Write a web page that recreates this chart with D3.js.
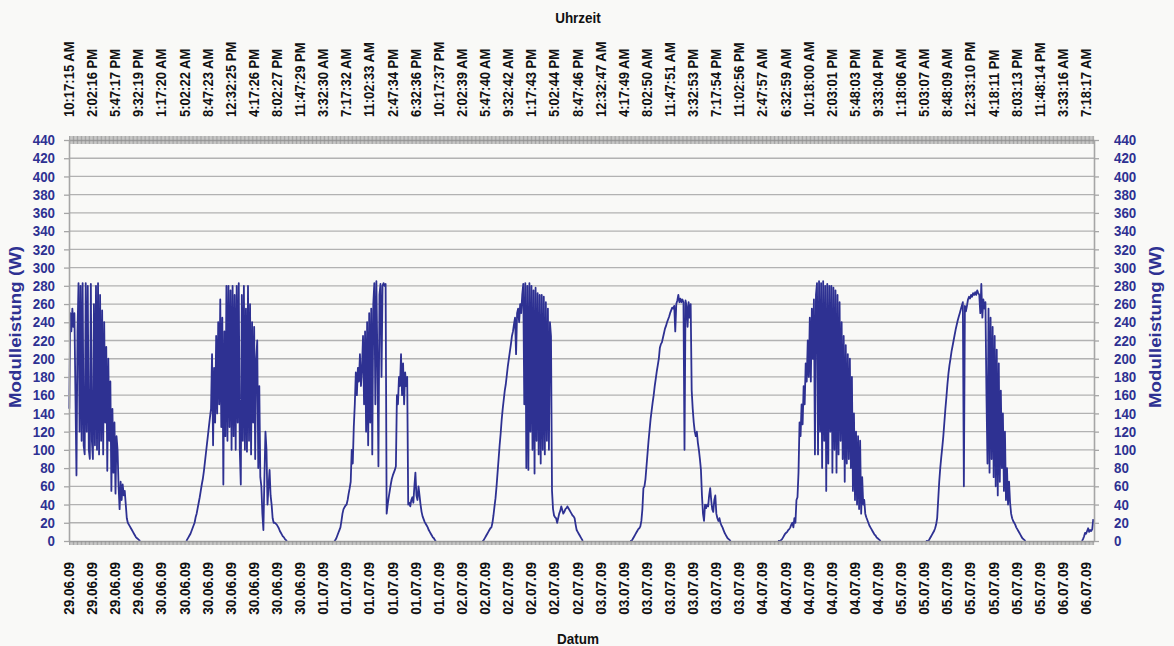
<!DOCTYPE html>
<html><head><meta charset="utf-8">
<script src="https://cdn.jsdelivr.net/npm/d3@7"></script>
<style>
html,body{margin:0;padding:0;background:#f9f9f7;}
svg{display:block;}
text{font-family:"Liberation Sans",Arial,sans-serif;}
</style></head><body>
<svg id="chart" width="1174" height="646"></svg>
<script>
// ---------- data ----------
const timeLabels = ["10:17:15 AM","2:02:16 PM","5:47:17 PM","9:32:19 PM","1:17:20 AM","5:02:22 AM","8:47:23 AM","12:32:25 PM","4:17:26 PM","8:02:27 PM","11:47:29 PM","3:32:30 AM","7:17:32 AM","11:02:33 AM","2:47:34 PM","6:32:36 PM","10:17:37 PM","2:02:39 AM","5:47:40 AM","9:32:42 AM","1:17:43 PM","5:02:44 PM","8:47:46 PM","12:32:47 AM","4:17:49 AM","8:02:50 AM","11:47:51 AM","3:32:53 PM","7:17:54 PM","11:02:56 PM","2:47:57 AM","6:32:59 AM","10:18:00 AM","2:03:01 PM","5:48:03 PM","9:33:04 PM","1:18:06 AM","5:03:07 AM","8:48:09 AM","12:33:10 PM","4:18:11 PM","8:03:13 PM","11:48:14 PM","3:33:16 AM","7:18:17 AM"];
const dateLabels = ["29.06.09","29.06.09","29.06.09","29.06.09","30.06.09","30.06.09","30.06.09","30.06.09","30.06.09","30.06.09","30.06.09","01.07.09","01.07.09","01.07.09","01.07.09","01.07.09","01.07.09","02.07.09","02.07.09","02.07.09","02.07.09","02.07.09","02.07.09","03.07.09","03.07.09","03.07.09","03.07.09","03.07.09","03.07.09","03.07.09","04.07.09","04.07.09","04.07.09","04.07.09","04.07.09","04.07.09","05.07.09","05.07.09","05.07.09","05.07.09","05.07.09","05.07.09","05.07.09","06.07.09","06.07.09"];
const yTicks = [0,20,40,60,80,100,120,140,160,180,200,220,240,260,280,300,320,340,360,380,400,420,440];
const axisEnd = "06.07.09 08:37";
const sampleMinutes = 10;

// one array of power readings (W) per day, sampled every 10 minutes from the start time
const dayDates  = ["29.06.09","30.06.09","01.07.09","02.07.09","03.07.09","04.07.09","05.07.09","06.07.09"];
const dayStarts = ["10:20","05:20","05:20","05:20","05:20","05:20","05:20","06:40"];
const power0629 = [145,250,230,255,235,250,160,72,230,283,120,280,110,283,105,95,283,120,280,100,90,282,110,90,260,105,280,100,283,95,270,110,253,95,240,130,213,77,200,110,175,55,145,75,130,52,115,100,60,35,65,45,62,50,55,40,25,20,18,16,14,12,10,8,6,4,3,2,1,0];
const power0630 = [0,2,4,6,8,11,14,17,20,26,30,36,42,48,55,62,68,76,86,96,106,116,126,136,145,205,105,190,130,225,140,240,150,265,125,245,62,230,115,280,110,280,125,275,100,280,115,270,100,280,130,283,100,62,270,110,280,100,255,98,280,110,260,95,240,130,235,90,200,220,80,170,70,60,30,12,70,120,100,40,60,78,50,40,25,20,20,19,18,16,14,11,9,7,5,4,2,1,0];
const power0701 = [0,1,3,6,9,12,15,22,30,35,37,39,40,45,52,58,65,100,85,125,150,185,160,190,175,205,170,190,225,150,230,120,240,105,250,130,255,95,260,283,150,285,200,82,270,282,180,280,283,280,282,30,40,48,55,62,68,72,75,78,82,160,150,180,170,205,160,195,150,185,170,180,40,42,38,45,48,42,60,75,50,45,60,50,40,32,27,24,21,19,17,15,12,10,8,6,4,3,1,0];
const power0702 = [0,0,2,4,6,8,10,12,14,15,20,28,38,47,60,75,90,105,118,133,145,155,165,172,182,192,200,208,216,225,230,238,245,205,250,255,240,260,250,270,282,150,283,80,280,78,283,120,280,100,275,74,278,110,272,95,270,85,270,100,268,95,262,110,255,100,240,225,55,35,28,26,25,20,25,30,33,38,34,30,32,35,36,38,36,34,32,30,28,27,25,18,12,10,8,6,4,2,0];
const power0703 = [0,0,1,3,5,7,9,11,13,14,16,22,35,58,60,68,82,96,110,122,134,143,152,160,170,178,186,193,200,212,216,218,223,228,233,236,240,243,246,250,253,256,255,258,230,260,264,270,262,266,262,265,262,100,264,258,235,262,245,260,165,145,130,120,115,120,108,100,90,78,50,30,22,40,36,40,38,50,58,45,35,32,45,50,30,25,22,25,20,17,15,12,9,7,5,3,2,1,0];
const power0704 = [0,0,0,1,2,4,6,8,9,10,12,13,15,18,20,15,25,20,45,48,75,130,115,150,128,170,150,195,175,220,180,245,175,255,200,265,95,270,283,95,285,120,283,80,285,110,280,55,282,85,280,120,280,75,278,100,275,75,270,95,262,110,240,90,225,65,215,85,205,90,200,80,180,55,140,45,120,40,115,35,110,30,70,40,45,30,26,23,20,17,15,13,11,9,7,6,4,3,2,1,0];
const power0705 = [0,0,0,1,3,5,7,9,11,14,18,25,45,65,80,92,103,115,130,145,158,172,184,193,200,208,214,220,226,232,237,242,246,250,254,258,262,60,258,252,258,265,268,266,270,268,272,270,273,270,275,272,270,250,282,245,265,255,262,160,85,255,75,245,90,235,70,225,60,210,50,195,65,165,80,140,55,120,45,80,40,65,42,30,25,22,20,18,15,13,11,9,7,5,3,2,1,0];
const power0706 = [0,2,5,9,8,11,14,10,12,11,13,24];
const dayPower = [power0629,power0630,power0701,power0702,power0703,power0704,power0705,power0706];

// ---------- chart ----------
(function () {
const svg = d3.select("#chart");
const blue = "#2e3192";
const mLeft = 69, mRight = 1094, mTop = 140, mBottom = 541;

const parseTick = d3.timeParse("%d.%m.%y %I:%M:%S %p");
const parseStart = d3.timeParse("%d.%m.%y %H:%M");
const tickTimes = timeLabels.map((t, i) => parseTick(dateLabels[i] + " " + t));

const x = d3.scaleTime().domain([tickTimes[0], parseStart(axisEnd)]).range([mLeft, mRight]);
const y = d3.scaleLinear().domain([0, 440]).range([mBottom, mTop]);

const days = dayPower.map((vals, d) => {
  const t0 = parseStart(dayDates[d] + " " + dayStarts[d]);
  return vals.map((v, i) => ({t: d3.timeMinute.offset(t0, i * sampleMinutes), v}));
});

// condensed-bold look: shrink each text's natural width
function condense(sel, factor) {
  sel.each(function () {
    const w = this.getComputedTextLength();
    d3.select(this).attr("textLength", w * factor).attr("lengthAdjust", "spacingAndGlyphs");
  });
}

// grid lines
svg.append("g").selectAll("line").data(yTicks.filter(v => v > 0 && v < 440)).join("line")
  .attr("x1", mLeft).attr("x2", mRight)
  .attr("y1", d => y(d)).attr("y2", d => y(d))
  .attr("stroke", "#b2b2b2").attr("stroke-width", 1.3);

// data lines
const line = d3.line().x(d => x(d.t)).y(d => y(d.v));
svg.append("g").selectAll("path").data(days).join("path")
  .attr("d", line)
  .attr("fill", "none").attr("stroke", blue).attr("stroke-width", 1.8)
  .attr("stroke-linejoin", "round");

// hatched category axes (top and bottom)
const minorTicks = d3.range(+x.domain()[0], +x.domain()[1], 13 * 60000).map(ms => new Date(ms));
const topBand = svg.append("g").attr("transform", `translate(0,${mTop})`)
  .call(d3.axisTop(x).tickValues(minorTicks).tickSizeInner(4).tickSizeOuter(0).tickFormat(() => ""));
topBand.selectAll(".tick line").attr("y1", 4).attr("y2", -4).attr("stroke", "#8f8f8f").attr("stroke-width", 0.8);
topBand.select(".domain").attr("stroke", "#a6a6a6").attr("stroke-width", 1.5);
topBand.selectAll(".tick text").remove();

const botBand = svg.append("g").attr("transform", `translate(0,${mBottom})`)
  .call(d3.axisBottom(x).tickValues(minorTicks).tickSizeInner(4).tickSizeOuter(0).tickFormat(() => ""));
botBand.selectAll(".tick line").attr("stroke", "#8f8f8f").attr("stroke-width", 0.8);
botBand.select(".domain").attr("stroke", "#a6a6a6").attr("stroke-width", 1.5);
botBand.selectAll(".tick text").remove();

// y axes
function styleY(g) {
  g.select(".domain").attr("stroke", "#a6a6a6").attr("stroke-width", 1.6);
  g.selectAll(".tick line").attr("stroke", "#a6a6a6").attr("stroke-width", 1.3);
  g.selectAll(".tick text").attr("fill", blue).attr("font-size", 14.5).attr("font-weight", "bold")
    .attr("font-family", "'Liberation Sans',Arial,sans-serif")
    .call(condense, 0.92);
}
svg.append("g").attr("transform", `translate(${mLeft},0)`)
  .call(d3.axisLeft(y).tickValues(yTicks).tickSize(5).tickSizeOuter(0).tickPadding(9))
  .call(styleY);
svg.append("g").attr("transform", `translate(${mRight},0)`)
  .call(d3.axisRight(y).tickValues(yTicks).tickSize(5).tickSizeOuter(0).tickPadding(15))
  .call(styleY);

// time labels (top) and date labels (bottom)
svg.append("g").selectAll("text").data(tickTimes).join("text")
  .attr("transform", d => `translate(${x(d)},117) rotate(-90)`)
  .attr("dy", "0.36em").attr("text-anchor", "start")
  .attr("font-size", 14).attr("font-weight", "bold").attr("fill", "#111")
  .text((d, i) => timeLabels[i])
  .call(condense, 0.93);
svg.append("g").selectAll("text").data(tickTimes).join("text")
  .attr("transform", d => `translate(${x(d)},562) rotate(-90)`)
  .attr("dy", "0.36em").attr("text-anchor", "end")
  .attr("font-size", 14).attr("font-weight", "bold").attr("fill", "#111")
  .text((d, i) => dateLabels[i])
  .call(condense, 0.97);

// titles
svg.append("text").attr("x", 578).attr("y", 23).attr("text-anchor", "middle")
  .attr("font-size", 14.5).attr("font-weight", "bold").attr("fill", "#111").text("Uhrzeit")
  .call(condense, 0.93);
svg.append("text").attr("x", 578).attr("y", 644).attr("text-anchor", "middle")
  .attr("font-size", 14.5).attr("font-weight", "bold").attr("fill", "#111").text("Datum")
  .call(condense, 0.93);
svg.append("text").attr("transform", "translate(21,327) rotate(-90)").attr("text-anchor", "middle")
  .attr("font-size", 17).attr("font-weight", "bold").attr("fill", blue).text("Modulleistung (W)")
  .call(condense, 1.1);
svg.append("text").attr("transform", "translate(1161,327) rotate(-90)").attr("text-anchor", "middle")
  .attr("font-size", 17).attr("font-weight", "bold").attr("fill", blue).text("Modulleistung (W)")
  .call(condense, 1.1);
})();
</script>
</body></html>
